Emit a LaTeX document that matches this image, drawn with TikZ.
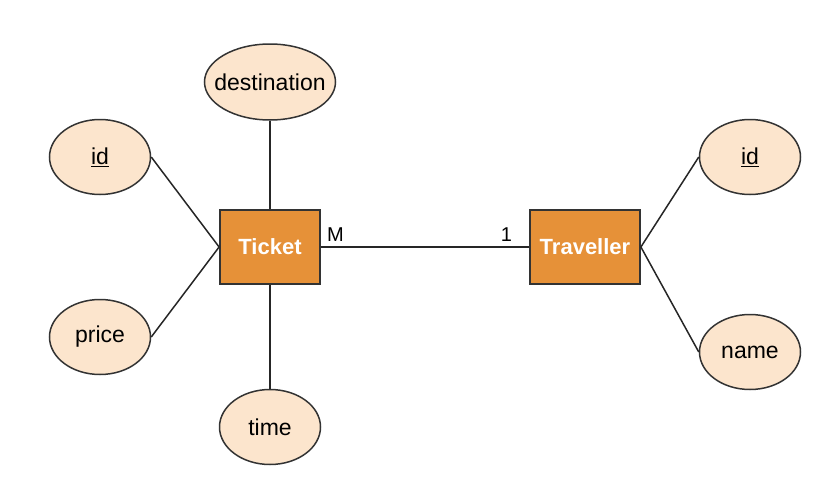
\documentclass[tikz,border=0pt]{standalone}
\usepackage{fontspec}
\setmainfont{Liberation Sans}
\usetikzlibrary{shapes.geometric}
\definecolor{peach}{HTML}{FCE5CD}
\definecolor{entorange}{HTML}{E69138}
\definecolor{edge}{HTML}{333333}
\begin{document}
\begin{tikzpicture}[x=1pt,y=-1pt,
  attr/.style={ellipse, draw=edge, line width=1.5pt, fill=peach, inner sep=0pt,
    minimum width=101pt, minimum height=75pt},
  attrtext/.style={font=\fontsize{23}{27}\selectfont},
  ent/.style={rectangle, draw=edge, line width=1.8pt, fill=entorange, text=white,
    font=\fontsize{22}{26}\selectfont\bfseries, minimum height=74pt},
  conn/.style={draw=black!85, line width=1.5pt},
  card/.style={font=\fontsize{20}{24}\selectfont, inner sep=0pt}
]
\useasboundingbox (0,0) rectangle (820,485);
% entities
\node[ent, minimum width=100pt] (ticket) at (270,247) {Ticket};
\node[ent, minimum width=110pt] (traveller) at (585,247) {Traveller};
% attributes
\node[attr, minimum width=131pt, minimum height=76pt, label={[attrtext]center:destination}] (dest) at (270,82) {};
\node[attr, label={[attrtext]center:\underline{id}}] (idL) at (100,157) {};
\node[attr, label={[attrtext]center:price}] (price) at (100,337) {};
\node[attr, label={[attrtext]center:time}] (time) at (270,427) {};
\node[attr, label={[attrtext]center:\underline{id}}] (idR) at (750,157) {};
\node[attr, label={[attrtext]center:name}] (name) at (750,352) {};
% connectors
\draw[conn] (dest.south) -- (ticket.north);
\draw[conn] (time.north) -- (ticket.south);
\draw[conn] (idL.east) -- (ticket.west);
\draw[conn] (price.east) -- (ticket.west);
\draw[conn] (ticket.east) -- (traveller.west);
\draw[conn] (traveller.east) -- (idR.west);
\draw[conn] (traveller.east) -- (name.west);
% cardinalities
\node[card, anchor=south west] (cardM) at ([xshift=6pt,yshift=5pt]ticket.east) {M};
\node[card, anchor=south east] (card1) at ([xshift=-17pt,yshift=5pt]traveller.west) {1};
\end{tikzpicture}
\end{document}
